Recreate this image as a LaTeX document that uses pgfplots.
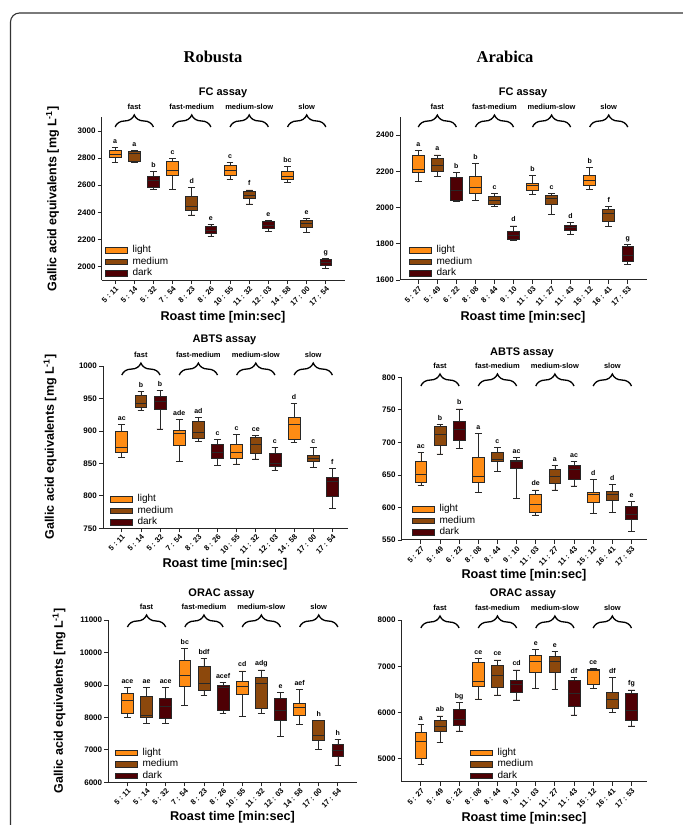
\documentclass[border=0pt]{standalone}
\usepackage{fontspec}
\setmainfont{Liberation Sans}
\newfontfamily\timesfont{Liberation Serif}
\usepackage{pgfplots}
\pgfplotsset{compat=1.18}
\usepgfplotslibrary{statistics}
\usetikzlibrary{decorations.pathreplacing,calc}

\definecolor{clight}{RGB}{255,140,20}
\definecolor{cmed}{RGB}{140,72,12}
\definecolor{cdark}{RGB}{78,0,4}
\definecolor{edge}{RGB}{40,40,40}

\newcommand{\fs}[1]{\fontsize{#1}{#1}\selectfont}

\newcommand{\bx}[7]{%
  \addplot[forget plot, draw=edge, line width=0.7pt, fill=#7,
    boxplot prepared={draw direction=y, draw position=#1, lower whisker=#2, lower quartile=#3, median=#4, upper quartile=#5, upper whisker=#6, box extend=0.62, whisker extend=0.35}]
    coordinates {};}

\tikzset{
  brc/.style={decorate, decoration={brace, amplitude=12pt}, line width=1.3pt, black},
  grp/.style={font=\bfseries\fs{7.5}, yshift=20pt, anchor=center, inner sep=0pt},
}

\newcommand{\groups}[2]{%
 \coordinate (#1a) at (axis cs:1,#2);
 \coordinate (#1b) at (axis cs:3,#2);
 \coordinate (#1c) at (axis cs:4,#2);
 \coordinate (#1d) at (axis cs:6,#2);
 \coordinate (#1e) at (axis cs:7,#2);
 \coordinate (#1f) at (axis cs:9,#2);
 \coordinate (#1g) at (axis cs:10,#2);
 \coordinate (#1h) at (axis cs:12,#2);}
\newcommand{\drawgroups}[1]{%
 \draw[brc] (#1a) -- (#1b);
 \draw[brc] (#1c) -- (#1d);
 \draw[brc] (#1e) -- (#1f);
 \draw[brc] (#1g) -- (#1h);
 \node[grp] at ($(#1a)!0.5!(#1b)$) {fast};
 \node[grp] at ($(#1c)!0.5!(#1d)$) {fast-medium};
 \node[grp] at ($(#1e)!0.5!(#1f)$) {medium-slow};
 \node[grp] at ($(#1g)!0.5!(#1h)$) {slow};}

\newcommand{\leg}{%
 \addlegendimage{fill=clight}\addlegendentry{light}
 \addlegendimage{fill=cmed}\addlegendentry{medium}
 \addlegendimage{fill=cdark}\addlegendentry{dark}}

\pgfplotsset{
 panel/.style={
  scale only axis, anchor=south west, clip=false,
  axis lines*=left,
  axis line style={line width=1pt, black!85},
  every tick/.style={line width=0.8pt, black!85},
  tick align=outside, major tick length=4pt,
  xtick={1,...,12},
  scaled y ticks=false,
  xticklabel style={rotate=45, anchor=north east, font=\bfseries\fs{7.5}, inner sep=1pt},
  yticklabel style={font=\bfseries\fs{8}, inner sep=2pt},
  /pgf/number format/assume math mode=true,
  /pgf/number format/1000 sep={},
  legend image code/.code={\draw[##1, line width=0.7pt, draw=edge] (0pt,-2.8pt) rectangle (22pt,2.8pt);},
  legend cell align=left,
  legend style={draw=none, fill=none, font=\fs{10}, at={(rel axis cs:0,0)}, anchor=south west,
     row sep=0.5pt, column sep=3.7pt, inner sep=0pt,
     nodes={inner sep=1pt, text height=7pt, text depth=2pt}},
 },
 lbl/.style={forget plot, only marks, mark=none, nodes near coords, point meta=explicit symbolic,
   nodes near coords style={font=\bfseries\fs{7}, anchor=base, yshift=4pt, inner sep=0pt}},
 robx/.style={xticklabels={5 : 11, 5 : 14, 5 : 32, 7 : 54, 8 : 23, 8 : 26, 10 : 55, 11 : 32, 12 : 03, 14 : 58, 17 : 00, 17 : 54}},
 arax/.style={xticklabels={5 : 27, 5 : 49, 6 : 22, 8 : 08, 8 : 44, 9 : 10, 11 : 03, 11 : 27, 11 : 43, 15 : 12, 16 : 41, 17 : 53}},
}

\begin{document}
\begin{tikzpicture}
\useasboundingbox (0pt,0pt) rectangle (683pt,825pt);
\clip (0pt,0pt) rectangle (683pt,825pt);
\draw[line width=1.1pt, rounded corners=9pt, black!80] (10.5pt,812pt) rectangle (720pt,-30pt);

% headings
\node[font=\timesfont\bfseries\fs{16.5}] at (213pt,768pt) {Robusta};
\node[font=\timesfont\bfseries\fs{16.5}] at (505pt,768pt) {Arabica};
\node[font=\bfseries\fs{11}] at (223pt,732pt) {FC assay};
\node[font=\bfseries\fs{11}] at (523pt,732pt) {FC assay};
\node[font=\bfseries\fs{11}] at (224.5pt,485pt) {ABTS assay};
\node[font=\bfseries\fs{11}] at (522pt,472.3pt) {ABTS assay};
\node[font=\bfseries\fs{11}] at (221.5pt,231pt) {ORAC assay};
\node[font=\bfseries\fs{11}] at (523pt,231pt) {ORAC assay};
% axis labels
\foreach \xx/\yy in {223/507.5, 523/507.5, 225/261, 524/250, 232.5/7.5, 524/7}
  \node[font=\bfseries\fs{12.7}] at (\xx pt,\yy pt) {Roast time [min:sec]};
\foreach \xx/\yy in {52.5/626, 50/378, 59/124}
  \node[font=\bfseries\fs{12.5}, rotate=90] at (\xx pt,\yy pt) {Gallic acid equivalents [mg L\textsuperscript{-1}]};

% ---------------- Robusta FC
\begin{axis}[panel, robx, at={(101.7pt,544.8pt)}, width=243.3pt, height=162.8pt,
  xmin=0.3, xmax=13, ymin=1900, ymax=3100, ytick={2000,2200,...,3000},
  legend style={xshift=3.3pt, yshift=1pt}]
\bx{1}{2767}{2806}{2830}{2855}{2880}{clight}
\bx{2}{2767}{2774}{2835}{2848}{2855}{cmed}
\bx{3}{2572}{2585}{2639}{2668}{2700}{cdark}
\bx{4}{2570}{2676}{2712}{2774}{2799}{clight}
\bx{5}{2381}{2418}{2442}{2516}{2585}{cmed}
\bx{6}{2221}{2246}{2270}{2295}{2314}{cdark}
\bx{7}{2644}{2676}{2712}{2750}{2767}{clight}
\bx{8}{2462}{2504}{2528}{2553}{2565}{cmed}
\bx{9}{2258}{2283}{2307}{2332}{2339}{cdark}
\bx{10}{2622}{2644}{2668}{2700}{2737}{clight}
\bx{11}{2251}{2290}{2319}{2339}{2356}{cmed}
\bx{12}{1988}{2007}{2029}{2054}{2061}{cdark}
\addplot[lbl] coordinates {(1,2880)[a] (2,2855)[a] (3,2700)[b] (4,2799)[c] (5,2585)[d] (6,2314)[e]
  (7,2767)[c] (8,2565)[f] (9,2339)[e] (10,2737)[bc] (11,2356)[e] (12,2061)[g]};
\groups{pa}{3029.5}
\leg
\end{axis}
\drawgroups{pa}

% ---------------- Arabica FC
\begin{axis}[panel, arax, at={(400pt,545pt)}, width=246.8pt, height=163.1pt,
  xmin=0.04, xmax=13, ymin=1600, ymax=2500, ytick={1600,1800,...,2400},
  legend style={xshift=9pt, yshift=0.8pt}]
\bx{1}{2143}{2192}{2211}{2286}{2317}{clight}
\bx{2}{2170}{2198}{2234}{2271}{2290}{cmed}
\bx{3}{2036}{2041}{2097}{2166}{2192}{cdark}
\bx{4}{2041}{2078}{2109}{2170}{2244}{clight}
\bx{5}{2008}{2017}{2038}{2060}{2078}{cmed}
\bx{6}{1821}{1824}{1848}{1867}{1898}{cdark}
\bx{7}{2073}{2097}{2124}{2133}{2179}{clight}
\bx{8}{1962}{2019}{2051}{2069}{2078}{cmed}
\bx{9}{1852}{1876}{1889}{1900}{1918}{cdark}
\bx{10}{2100}{2124}{2148}{2179}{2220}{clight}
\bx{11}{1894}{1922}{1968}{1990}{2005}{cmed}
\bx{12}{1686}{1701}{1734}{1784}{1797}{cdark}
\addplot[lbl] coordinates {(1,2317)[a] (2,2290)[a] (3,2192)[b] (4,2244)[b] (5,2078)[c] (6,1898)[d]
  (7,2179)[b] (8,2078)[c] (9,1918)[d] (10,2220)[b] (11,2005)[f] (12,1797)[g]};
\groups{pb}{2444}
\leg
\end{axis}
\drawgroups{pb}

% ---------------- Robusta ABTS
\begin{axis}[panel, robx, at={(103pt,296.7pt)}, width=244.7pt, height=162.3pt,
  xmin=0.02, xmax=12.8, ymin=750, ymax=1000, ytick={750,800,...,1000},
  legend style={xshift=7pt, yshift=0.1pt}]
\bx{1}{859.4}{867}{874.8}{898.9}{910.2}{clight}
\bx{2}{932.2}{935.8}{942.5}{954.3}{960.5}{cmed}
\bx{3}{903}{933.3}{945}{952.8}{963}{cdark}
\bx{4}{852.7}{877.3}{896.3}{901.4}{917.9}{clight}
\bx{5}{883.5}{888.1}{897.9}{914.3}{921}{cmed}
\bx{6}{847.5}{857.8}{867}{879.9}{887}{cdark}
\bx{7}{849.1}{857.8}{867}{879.4}{894.8}{clight}
\bx{8}{856.8}{865.5}{879.4}{889.6}{893.7}{cmed}
\bx{9}{838.8}{846}{850.1}{865.5}{874.8}{cdark}
\bx{10}{881.9}{887}{910.7}{921}{942.5}{clight}
\bx{11}{843.4}{852.7}{857.8}{863}{874.8}{cmed}
\bx{12}{780.8}{798.8}{821.9}{828}{842.4}{cdark}
\addplot[lbl] coordinates {(1,910.2)[ac] (2,960.5)[b] (3,963)[b] (4,917.9)[ade] (5,921)[ad] (6,887)[c]
  (7,894.8)[c] (8,893.7)[ce] (9,874.8)[c] (10,942.5)[d] (11,874.8)[c] (12,842.4)[f]};
\groups{pc}{986}
\leg
\end{axis}
\drawgroups{pc}

% ---------------- Arabica ABTS
\begin{axis}[panel, arax, at={(401.7pt,285pt)}, width=245.1pt, height=162.7pt,
  xmin=0, xmax=12.8, ymin=550, ymax=800, ytick={550,600,...,800},
  legend style={xshift=10.3pt, yshift=1.8pt}]
\bx{1}{633.5}{638.1}{651.5}{670.4}{684.8}{clight}
\bx{2}{682.2}{696}{712.4}{724.2}{727.8}{cmed}
\bx{3}{690.9}{703.7}{720.6}{732.9}{751.3}{cdark}
\bx{4}{622.8}{638.1}{647.4}{677.1}{714}{clight}
\bx{5}{656}{671.4}{674}{684.2}{692.4}{cmed}
\bx{6}{614.1}{660.2}{670.4}{673}{676.6}{cdark}
\bx{7}{588.5}{592}{605.4}{620.7}{626.9}{clight}
\bx{8}{626.9}{637.1}{647.4}{658.6}{664.3}{cmed}
\bx{9}{633}{643.8}{658.6}{664.3}{670.4}{cdark}
\bx{10}{591}{607.4}{620.7}{622.8}{643.3}{clight}
\bx{11}{592.6}{610.5}{620.7}{625.3}{635.6}{cmed}
\bx{12}{563.8}{582.3}{589.5}{601.3}{608.9}{cdark}
\addplot[lbl] coordinates {(1,684.8)[ac] (2,727.8)[b] (3,751.3)[b] (4,714)[a] (5,692.4)[c] (6,676.6)[ac]
  (7,626.9)[de] (8,664.3)[a] (9,670.4)[ac] (10,643.3)[d] (11,635.6)[d] (12,608.9)[e]};
\groups{pd}{786.6}
\leg
\end{axis}
\drawgroups{pd}

% ---------------- Robusta ORAC
\begin{axis}[panel, robx, at={(108.3pt,42.7pt)}, width=248.7pt, height=162.3pt,
  xmin=0, xmax=13, ymin=6000, ymax=11000, ytick={6000,7000,...,11000},
  legend style={xshift=6.7pt, yshift=0.8pt}]
\bx{1}{8001}{8124}{8515}{8741}{8925}{clight}
\bx{2}{7816}{7991}{8073}{8658}{8925}{cmed}
\bx{3}{7816}{7970}{8350}{8576}{8925}{cdark}
\bx{4}{8361}{8946}{9305}{9747}{10127}{clight}
\bx{5}{8689}{8843}{9049}{9583}{9819}{cmed}
\bx{6}{8124}{8227}{8925}{8997}{9080}{cdark}
\bx{7}{8042}{8710}{8967}{9121}{9429}{clight}
\bx{8}{8124}{8278}{9049}{9234}{9460}{cmed}
\bx{9}{7426}{7919}{8227}{8587}{8761}{cdark}
\bx{10}{7785}{8073}{8299}{8433}{8874}{clight}
\bx{11}{7015}{7303}{7436}{7898}{7919}{cmed}
\bx{12}{6532}{6789}{6995}{7169}{7323}{cdark}
\addplot[lbl] coordinates {(1,8925)[ace] (2,8925)[ae] (3,8925)[ace] (4,10127)[bc] (5,9819)[bdf] (6,9080)[acef]
  (7,9429)[cd] (8,9460)[adg] (9,8761)[e] (10,8874)[aef] (11,7919)[h] (12,7323)[h]};
\groups{pe}{10784}
\leg
\end{axis}
\drawgroups{pe}

% ---------------- Arabica ORAC
\begin{axis}[panel, arax, at={(401.7pt,43pt)}, width=245.1pt, height=162pt,
  xmin=0, xmax=12.8, ymin=4500, ymax=8000, ytick={5000,6000,7000,8000},
  legend style={xshift=68.3pt, yshift=0.5pt}]
\bx{1}{4885}{5014}{5374}{5568}{5748}{clight}
\bx{2}{5353}{5590}{5698}{5827}{5928}{cmed}
\bx{3}{5604}{5719}{5863}{6079}{6216}{cdark}
\bx{4}{6295}{6576}{6683}{7086}{7173}{clight}
\bx{5}{6381}{6547}{6799}{7029}{7137}{cmed}
\bx{6}{6273}{6432}{6619}{6705}{6921}{cdark}
\bx{7}{6525}{6871}{7115}{7245}{7367}{clight}
\bx{8}{6504}{6863}{7101}{7223}{7317}{cmed}
\bx{9}{5950}{6130}{6417}{6705}{6755}{cdark}
\bx{10}{6525}{6612}{6907}{6935}{6957}{clight}
\bx{11}{6000}{6094}{6295}{6439}{6763}{cmed}
\bx{12}{5712}{5842}{6058}{6417}{6489}{cdark}
\addplot[lbl] coordinates {(1,5748)[a] (2,5928)[ab] (3,6216)[bg] (4,7173)[ce] (5,7137)[ce] (6,6921)[cd]
  (7,7367)[e] (8,7317)[e] (9,6755)[df] (10,6957)[ce] (11,6763)[df] (12,6489)[fg]};
\groups{pf}{7827}
\leg
\end{axis}
\drawgroups{pf}
\end{tikzpicture}
\end{document}
